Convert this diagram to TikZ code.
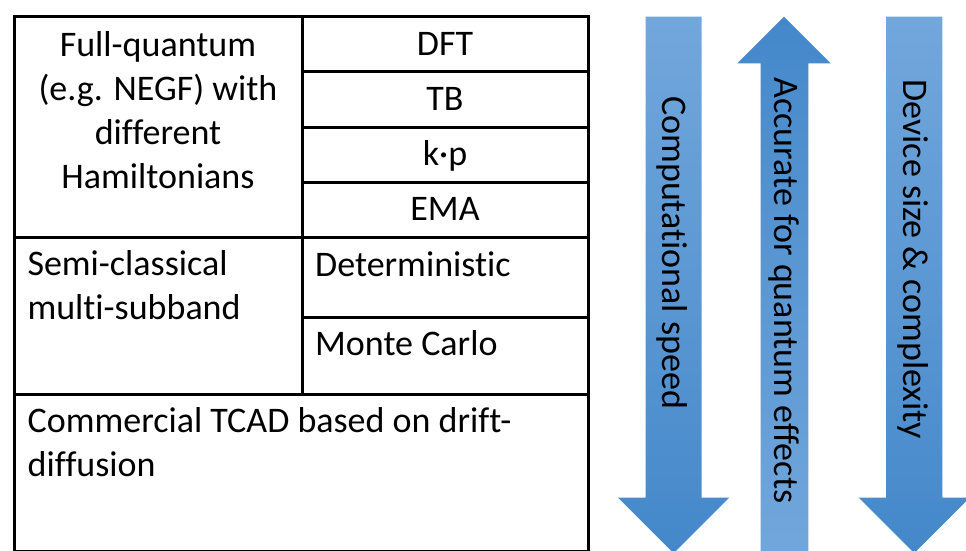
\documentclass[tikz,border=0pt]{standalone}
\usepackage{fontspec}
\setmainfont{Carlito}[Ligatures=NoCommon]
\definecolor{arrlight}{RGB}{114,167,220}
\definecolor{arrdark}{RGB}{68,136,202}
\begin{document}
\begin{tikzpicture}[x=1pt,y=-1pt,
  gridline/.style={line width=3pt, black},
  lbl/.style={inner sep=0pt, font=\fontsize{36pt}{44pt}\selectfont},
  downarrow/.style={top color=arrlight, bottom color=arrdark, draw=none},
  uparrow/.style={top color=arrdark, bottom color=arrlight, draw=none},
  arrlbl/.style={lbl, rotate=-90, anchor=center}
]
\useasboundingbox (0,0) rectangle (966,550);
\clip (0,0) rectangle (966,550);

% table grid
\draw[gridline] (14,16) rectangle (588,551);
\draw[gridline] (302,16) -- (302,394);
\draw[gridline] (302,71) -- (588,71);
\draw[gridline] (302,127) -- (588,127);
\draw[gridline] (302,182) -- (588,182);
\draw[gridline] (14,237) -- (588,237);
\draw[gridline] (302,317) -- (588,317);
\draw[gridline] (14,394) -- (588,394);

% table texts (base anchor = baseline of the last line)
\node[lbl, align=center, anchor=base] (fq) at (158,188.5) {Full-quantum\\(e.g. NEGF) with\\different\\Hamiltonians};
\node[lbl, anchor=base] (dft) at (445,55) {DFT};
\node[lbl, anchor=base] (tb) at (445,110) {TB};
\node[lbl, anchor=base] (kp) at (445,165) {k·p};
\node[lbl, anchor=base] (ema) at (445,220) {EMA};
\node[lbl, align=left, anchor=base west] (sc) at (27.3,319.3) {Semi-classical\\multi-subband};
\node[lbl, anchor=base west] (det) at (315,276) {Deterministic};
\node[lbl, anchor=base west] (mc) at (315,355.3) {Monte Carlo};
\node[lbl, align=left, anchor=base west] (tcad) at (27.5,476.7) {Commercial TCAD based on drift-\\diffusion};

% arrows
\path[downarrow] (645.7,16.5) -- (701.7,16.5) -- (701.7,497.7) -- (729.2,497.7)
  -- (673.7,553.2) -- (618.2,497.7) -- (645.7,497.7) -- cycle;
\path[uparrow] (784,16.7) -- (830.7,63.3) -- (808.3,63.3) -- (808.3,560)
  -- (760.7,560) -- (760.7,63.3) -- (737.3,63.3) -- cycle;
\path[downarrow] (886.1,16.5) -- (942.3,16.5) -- (942.3,497.7) -- (969.7,497.7)
  -- (914.2,553.2) -- (858.7,497.7) -- (886.1,497.7) -- cycle;

\node[arrlbl] (speed) at (672.5,252.7) {Computational speed};
\node[arrlbl] (accur) at (784,290.3) {Accurate for quantum effects};
\node[arrlbl] (size) at (913.5,259.2) {Device size \& complexity};
\end{tikzpicture}
\end{document}
